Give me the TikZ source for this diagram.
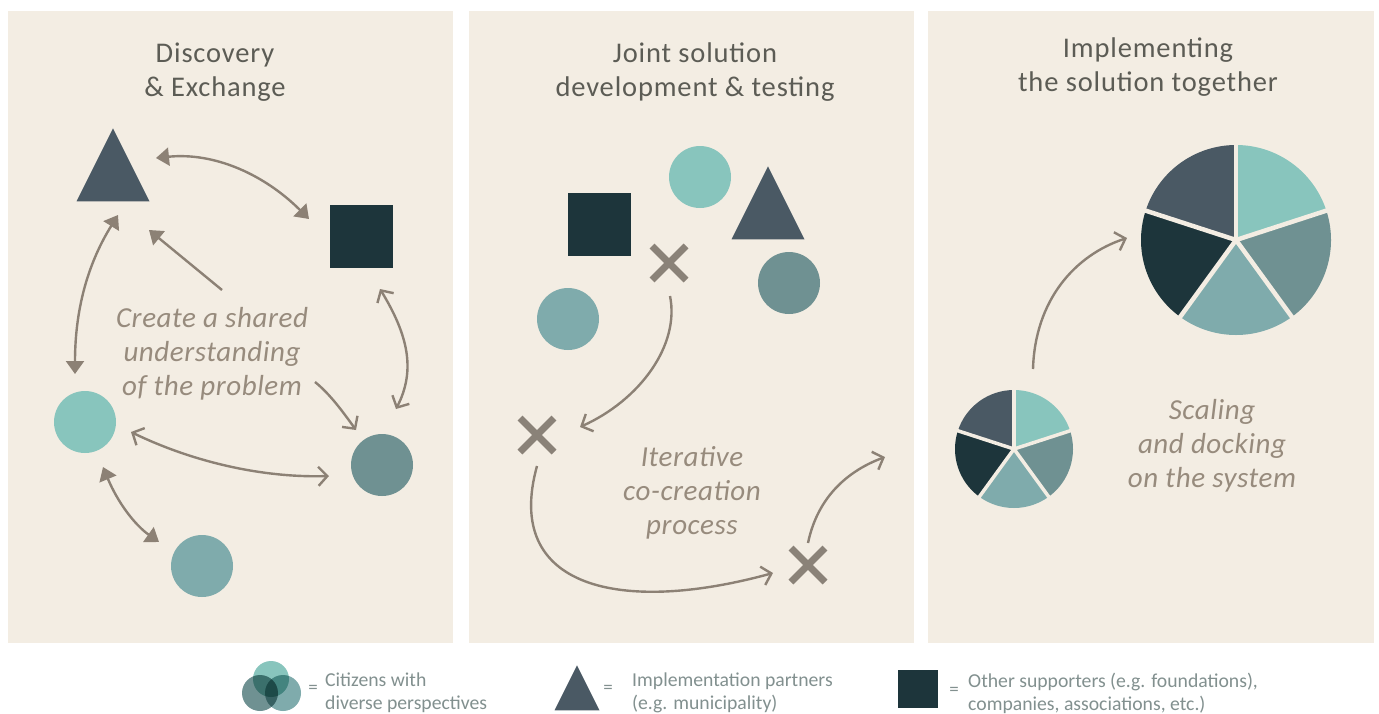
\documentclass[tikz,border=0pt]{standalone}
\usepackage{fontspec}
\setmainfont{Carlito}
\newfontfamily\spaced[LetterSpace=3.0]{Carlito}
\newfontfamily\spacednote[LetterSpace=2.0]{Carlito}
\usetikzlibrary{arrows.meta,shapes.geometric,shapes.misc,calc}
\definecolor{panel}{HTML}{F3EDE3}
\definecolor{teal1}{HTML}{88C5BD}
\definecolor{teal2}{HTML}{6F9192}
\definecolor{teal3}{HTML}{7FABAC}
\definecolor{ink}{HTML}{1D353B}
\definecolor{slate}{HTML}{4A5964}
\definecolor{arrowc}{HTML}{8C8175}
\definecolor{crossc}{HTML}{8A8278}
\definecolor{notec}{HTML}{978B7D}
\definecolor{titlec}{HTML}{5C5C55}
\definecolor{legc}{HTML}{82908F}
\tikzset{
  blob/.style={circle,fill=#1,inner sep=0pt,minimum size=62pt},
  sq/.style={rectangle,fill=ink,inner sep=0pt,minimum size=#1},
  tri/.style={isosceles triangle,isosceles triangle apex angle=53,isosceles triangle stretches,shape border rotate=90,fill=slate,inner sep=0pt,minimum width=#1,minimum height=#1},
  xmark/.style={cross out,draw=crossc,line width=7pt,inner sep=0pt,minimum size=27pt},
  both filled/.style={draw=arrowc,line width=2.4pt,{Triangle[length=13pt,width=18pt]}-{Triangle[length=13pt,width=18pt]}},
  to filled/.style={draw=arrowc,line width=2.4pt,-{Triangle[length=13pt,width=18pt]}},
  both open/.style={draw=arrowc,line width=2.4pt,{Straight Barb[length=9pt,width=19pt]}-{Straight Barb[length=9pt,width=19pt]}},
  to open/.style={draw=arrowc,line width=2.4pt,-{Straight Barb[length=9pt,width=19pt]}},
  titletxt/.style={font=\fontsize{28.5}{34}\spaced\selectfont,text=titlec,align=center,inner sep=0pt},
  notetxt/.style={font=\fontsize{29}{34}\spacednote\selectfont\itshape,text=notec,align=center,inner sep=0pt},
  legtxt/.style={font=\fontsize{19.7}{23}\selectfont,text=legc,align=left,inner sep=0pt,anchor=west},
  eqtxt/.style={font=\fontsize{19}{19}\selectfont,text=legc,inner sep=0pt},
  panelbox/.style={rectangle,fill=panel,inner sep=0pt,anchor=north west,minimum width=#1,minimum height=632pt}
}
\newcommand{\piechart}[4]{% centre x, centre y, radius, gap
  \fill[teal1] (#1,#2) -- ++(-90:#3) arc[start angle=-90,end angle=-18,radius=#3] -- cycle;
  \fill[teal2] (#1,#2) -- ++(-18:#3) arc[start angle=-18,end angle=54,radius=#3] -- cycle;
  \fill[teal3] (#1,#2) -- ++(54:#3) arc[start angle=54,end angle=126,radius=#3] -- cycle;
  \fill[ink] (#1,#2) -- ++(126:#3) arc[start angle=126,end angle=198,radius=#3] -- cycle;
  \fill[slate] (#1,#2) -- ++(198:#3) arc[start angle=198,end angle=270,radius=#3] -- cycle;
  \foreach \a in {-90,-18,54,126,198}{\draw[panel,line width=#4] (#1,#2) -- ++(\a:#3+2);}
}
\begin{document}
\begin{tikzpicture}[x=1pt,y=-1pt]
\useasboundingbox (0,0) rectangle (1379,713);
\fill[white] (0,0) rectangle (1379,713);
\node[panelbox=445pt] (p1) at (8,11) {};
\node[panelbox=445pt] (p2) at (469,11) {};
\node[panelbox=446pt] (p3) at (928,11) {};
% titles
\node[titletxt] (t1) at (215,72) {Discovery\\\& Exchange};
\node[titletxt] (t2) at (695,72) {Joint solution\\development \& testing};
\node[titletxt] (t3) at (1148,67) {Implementing\\the solution together};
% panel 1
\node[tri=73pt,anchor=apex] (a1) at (113,128) {};
\node[sq=63pt] (a2) at (361.5,236.5) {};
\node[blob=teal1] (a3) at (85,422) {};
\node[blob=teal2] (a4) at (382,465) {};
\node[blob=teal3] (a5) at (202,566) {};
\node[notetxt] (n1) at (212,354) {Create a shared\\understanding\\of the problem};
\coordinate (e1a) at (156,158); \coordinate (e1b) at (309,219);
\coordinate (e2a) at (75,374); \coordinate (e2b) at (118,215);
\coordinate (e3a) at (222,290); \coordinate (e3b) at (149,230);
\coordinate (e4a) at (380,289); \coordinate (e4b) at (396,409);
\coordinate (e5a) at (315,382); \coordinate (e5b) at (356,430);
\coordinate (e6a) at (131,432); \coordinate (e6b) at (329,476);
\coordinate (e7a) at (103,467); \coordinate (e7b) at (159,542);
\draw[both filled] (e1a) .. controls (215,152) and (265,175) .. (e1b);
\draw[both filled] (e2a) .. controls (75,305) and (90,260) .. (e2b);
\draw[to filled] (e3a) -- (e3b);
\draw[both open] (e4a) .. controls (408,335) and (416,370) .. (e4b);
\draw[to open] (e5a) .. controls (330,394) and (343,412) .. (e5b);
\draw[both open] (e6a) .. controls (195,463) and (265,478) .. (e6b);
\draw[both filled] (e7a) .. controls (118,503) and (135,525) .. (e7b);
% panel 2
\node[sq=63pt] (b1) at (599.5,224) {};
\node[blob=teal1] (b2) at (700,177) {};
\node[tri=73pt,anchor=apex] (b3) at (768,166) {};
\node[blob=teal2] (b4) at (789,283) {};
\node[blob=teal3] (b5) at (568,319) {};
\node[xmark] (x1) at (669,263) {};
\node[xmark] (x2) at (537,435) {};
\node[xmark] (x3) at (808,565) {};
\node[notetxt] (n2) at (692,493) {Iterative\\co-creation\\process};
\coordinate (f1a) at (670,296); \coordinate (f1b) at (580,427);
\coordinate (f2a) at (537,466); \coordinate (f2b) at (773,573);
\coordinate (f3a) at (808,543); \coordinate (f3b) at (885,457);
\coordinate (g1a) at (1033,369); \coordinate (g1b) at (1127,238);
\draw[to open] (f1a) .. controls (680,345) and (640,400) .. (f1b);
\draw[to open] (f2a) .. controls (503,588) and (620,615) .. (f2b);
\draw[to open] (f3a) .. controls (818,495) and (850,470) .. (f3b);
% panel 3
\piechart{1236}{240}{95}{4.5pt}
\piechart{1014}{449}{59}{3.5pt}
\draw[to open] (g1a) .. controls (1035,300) and (1075,255) .. (g1b);
\node[notetxt] (n3) at (1212,446) {Scaling\\and docking\\on the system};
% legend
\begin{scope}[blend mode=multiply]
\node[circle,fill=teal2,inner sep=0pt,minimum size=36pt] (l2) at (260,693) {};
\node[circle,fill=teal3,inner sep=0pt,minimum size=36pt] (l3) at (283,693) {};
\node[circle,fill=teal1,inner sep=0pt,minimum size=36pt] (l1) at (271,679) {};
\end{scope}
\node[eqtxt] (q1) at (313,689) {=};
\node[legtxt] (lt1) at (325,693) {Citizens with\\diverse perspectives};
\node[tri=45pt,anchor=apex] (l4) at (577,665) {};
\node[eqtxt] (q2) at (608,689) {=};
\node[legtxt] (lt2) at (632,693) {Implementation partners\\(e.g. municipality)};
\node[rectangle,fill=ink,inner sep=0pt,minimum width=40pt,minimum height=38pt] (l5) at (918,689) {};
\node[eqtxt] (q3) at (954,691) {=};
\node[legtxt] (lt3) at (968,693) {Other supporters (e.g. foundations),\\companies, associations, etc.)};
\end{tikzpicture}
\end{document}
